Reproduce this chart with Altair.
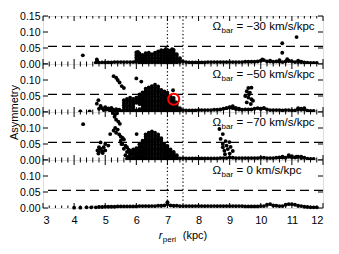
import altair as alt
import pandas as pd

# ---------------- data ----------------
omega_labels = ["\u221230", "\u221250", "\u221270", "0"]
x_ticks = [3, 4, 5, 6, 7, 8, 9, 10, 11, 12]
y_ticks_top = [0.0, 0.05, 0.10, 0.15]
y_ticks = [0.0, 0.05, 0.10]
threshold = [0.055]
r_lines = [7.0, 7.5]
highlight_x = [7.2]
highlight_y = [0.04]

band_x = [4.7, 4.8, 4.9, 5.0, 5.1, 5.2, 5.3, 5.4, 5.5, 5.6,
          5.7, 5.8, 5.9, 6.0, 6.1, 6.2, 6.3, 6.4, 6.5, 6.6,
          6.7, 6.8, 6.9, 7.0, 7.1, 7.2, 7.3, 7.4, 7.5, 7.6,
          7.7, 7.8, 7.9, 8.0, 8.1, 8.2, 8.3, 8.4, 8.5, 8.6,
          8.7, 8.8, 8.9, 9.0, 9.1, 9.2, 9.3, 9.4, 9.5, 9.6,
          9.7, 9.8, 9.9, 10.0, 10.1, 10.2, 10.3, 10.4, 10.5, 10.6,
          10.7, 10.8, 10.9, 11.0, 11.1, 11.2, 11.3, 11.4, 11.5, 11.6]

band_y1 = [.004, .004, .005, .005, .005, .005, .006, .006, .006, .006,
           .006, .006, .006, .006, .005, .005, .005, .005, .005, .005,
           .005, .005, .005, .005, .005, .005, .005, .006, .008, .006,
           .005, .005, .005, .005, .005, .005, .006, .006, .006, .006,
           .006, .006, .006, .006, .006, .006, .006, .006, .007, .007,
           .007, .007, .008, .010, .012, .008, .008, .007, .008, .007,
           .006, .008, .010, .008, .006, .006, .007, .005, .004, .003]
band_y2 = [None, None, None, None, None, None, None, None, None, .004,
           .004, .004, .004, .004, .004, .004, .004, .004, .004, .004,
           .004, .004, .004, .004, .004, .004, .004, .005, .006, .005,
           .005, .005, .005, .006, .006, .006, .006, .006, .007, .007,
           .008, .010, .012, .014, .012, .009, .008, .007, .008, .008,
           .008, .010, .012, .010, .012, .008, .006, .006, .006, .006,
           .005, .006, .006, .005, .005, .008, .007, .008, .004, .003]
band_y3 = [None, None, None, None, None, None, None, None, None, None,
           .004, .004, .004, .004, .004, .004, .004, .004, .004, .004,
           .004, .004, .004, .004, .004, .004, .004, .005, .006, .005,
           .005, .005, .005, .005, .005, .005, .005, .005, .005, .005,
           .006, .006, .006, .008, .007, .006, .006, .006, .006, .006,
           .006, .006, .006, .007, .007, .006, .006, .006, .007, .008,
           .008, .007, .010, .008, .008, .010, .006, .007, .004, .003]
band_y4 = [.002, .003, .003, .004, .004, .004, .004, .005, .005, .005,
           .005, .005, .005, .005, .006, .006, .006, .006, .006, .006,
           .007, .007, .008, .012, .008, .007, .007, .006, .006, .006,
           .006, .006, .006, .006, .006, .006, .006, .006, .006, .006,
           .006, .006, .006, .006, .006, .006, .006, .006, .005, .005,
           .005, .005, .005, .006, .006, .010, .012, .008, .007, .006,
           .006, .010, .012, .012, .010, .007, .006, .004, .003, .002]

pts1 = [(4.28, .027), (4.73, .014), (4.74, .009),
        (6.0, .012), (6.0, .020), (6.0, .028), (6.0, .036), (6.05, .038),
        (6.1, .010), (6.1, .018), (6.1, .026), (6.1, .033),
        (6.2, .012), (6.2, .020), (6.2, .028),
        (6.3, .010), (6.3, .018), (6.3, .026), (6.3, .034),
        (6.4, .012), (6.4, .020), (6.4, .028), (6.4, .035),
        (6.5, .010), (6.5, .018), (6.5, .026), (6.5, .031),
        (6.6, .012), (6.6, .020), (6.6, .028), (6.6, .035),
        (6.7, .010), (6.7, .018), (6.7, .026), (6.7, .034), (6.7, .039),
        (6.8, .012), (6.8, .020), (6.8, .028), (6.8, .036), (6.8, .043),
        (6.9, .010), (6.9, .018), (6.9, .026), (6.9, .034), (6.9, .042), (6.95, .047),
        (7.0, .012), (7.0, .020), (7.0, .028), (7.0, .036), (7.0, .044),
        (7.1, .010), (7.1, .018), (7.1, .026), (7.1, .034), (7.1, .042), (7.15, .046),
        (7.2, .012), (7.2, .020), (7.2, .028), (7.2, .036), (7.2, .044),
        (7.3, .010), (7.3, .018), (7.3, .026), (7.3, .031),
        (7.4, .012), (7.4, .018),
        (10.05, .014), (10.3, .010), (10.6, .012), (10.69, .035), (10.69, .065),
        (10.85, .015), (10.9, .010), (11.15, .084), (11.2, .010), (11.3, .006),
        (11.7, .003), (11.8, .003)]

pts2 = [(4.2, .002), (4.5, .002), (4.73, .026), (4.78, .037), (4.8, .010),
        (4.85, .019), (4.9, .012), (4.95, .006), (5.0, .015), (5.05, .008),
        (5.1, .011), (5.15, .004), (5.2, .013), (5.25, .007), (5.3, .003),
        (5.35, .009), (5.4, .004), (5.45, .007), (5.5, .003),
        (5.27, .112), (5.35, .107), (5.4, .100), (5.46, .092), (5.53, .081),
        (5.6, .075), (6.0, .105), (6.16, .095), (7.18, .068),
        (5.6, .005), (5.6, .013), (5.6, .021), (5.6, .029), (5.6, .037),
        (5.7, .009), (5.7, .017), (5.7, .025), (5.7, .033), (5.7, .041),
        (5.8, .005), (5.8, .013), (5.8, .021), (5.8, .029), (5.8, .037), (5.8, .045),
        (5.9, .009), (5.9, .017), (5.9, .025), (5.9, .033), (5.9, .041),
        (6.0, .005), (6.0, .029), (6.0, .037), (6.0, .045),
        (6.1, .009), (6.1, .025), (6.1, .033), (6.1, .041), (6.1, .049), (6.1, .055),
        (6.2, .005), (6.2, .013), (6.2, .021), (6.2, .029), (6.2, .037), (6.2, .045),
        (6.2, .053), (6.2, .061),
        (6.3, .009), (6.3, .017), (6.3, .025), (6.3, .033), (6.3, .041), (6.3, .049),
        (6.3, .057), (6.3, .065), (6.3, .073),
        (6.4, .005), (6.4, .013), (6.4, .021), (6.4, .029), (6.4, .037), (6.4, .045),
        (6.4, .053), (6.4, .061), (6.4, .069), (6.4, .077),
        (6.5, .009), (6.5, .017), (6.5, .025), (6.5, .033), (6.5, .041), (6.5, .049),
        (6.5, .057), (6.5, .065), (6.5, .073), (6.5, .081),
        (6.6, .005), (6.6, .013), (6.6, .021), (6.6, .029), (6.6, .037), (6.6, .045),
        (6.6, .053), (6.6, .061), (6.6, .069), (6.6, .077), (6.6, .085),
        (6.7, .009), (6.7, .017), (6.7, .025), (6.7, .033), (6.7, .041), (6.7, .049),
        (6.7, .057), (6.7, .065), (6.7, .073), (6.7, .080),
        (6.8, .005), (6.8, .013), (6.8, .021), (6.8, .029), (6.8, .037), (6.8, .045),
        (6.8, .053), (6.8, .061), (6.8, .069),
        (6.9, .009), (6.9, .017), (6.9, .025), (6.9, .033), (6.9, .041), (6.9, .049),
        (6.9, .057), (6.9, .064),
        (7.0, .005), (7.0, .013), (7.0, .021), (7.0, .029), (7.0, .037), (7.0, .045),
        (7.0, .053), (7.0, .060),
        (7.1, .009), (7.1, .017), (7.1, .025), (7.1, .033), (7.1, .041), (7.1, .049),
        (7.2, .005), (7.2, .013), (7.2, .021), (7.2, .029), (7.2, .037), (7.2, .044),
        (7.3, .009), (7.3, .017), (7.3, .025), (7.3, .030),
        (7.4, .006), (7.4, .012),
        (9.55, .030), (9.6, .045), (9.5, .050), (9.62, .055), (9.65, .060),
        (9.55, .065), (9.6, .075), (9.7, .076), (9.7, .040), (9.75, .035), (9.68, .025),
        (8.9, .012), (9.0, .015), (9.1, .018), (9.2, .013), (9.3, .010),
        (10.0, .010), (10.1, .012), (11.2, .012), (11.3, .010), (11.4, .012), (11.7, .003)]

pts3 = [(4.29, .112),
        (4.75, .030), (4.8, .025), (4.85, .035), (4.9, .028), (4.95, .040), (5.0, .030),
        (4.8, .040), (4.85, .055), (5.0, .050), (5.1, .045), (4.78, .020), (4.92, .022),
        (5.25, .147), (5.32, .143), (5.38, .146), (5.3, .135), (5.35, .126), (5.42, .120),
        (5.47, .113), (5.16, .081), (5.27, .092), (5.32, .100), (5.35, .085), (5.4, .095),
        (5.45, .080), (5.5, .073), (5.56, .069), (5.5, .060), (5.6, .064), (5.55, .050),
        (5.65, .045), (5.6, .035), (5.7, .040), (5.7, .025), (5.75, .032), (5.8, .020),
        (5.65, .015), (5.75, .010), (5.52, .050), (6.01, .081),
        (5.8, .005), (5.8, .013), (5.8, .021), (5.8, .029),
        (5.9, .009), (5.9, .017), (5.9, .025), (5.9, .033),
        (6.0, .005), (6.0, .013), (6.0, .021), (6.0, .029), (6.0, .037),
        (6.1, .009), (6.1, .017), (6.1, .025), (6.1, .033), (6.1, .041), (6.1, .049),
        (6.2, .005), (6.2, .013), (6.2, .021), (6.2, .029), (6.2, .037), (6.2, .045),
        (6.2, .053), (6.2, .060),
        (6.3, .009), (6.3, .017), (6.3, .025), (6.3, .033), (6.3, .041), (6.3, .049),
        (6.3, .057), (6.3, .065), (6.3, .073), (6.3, .080),
        (6.4, .005), (6.4, .013), (6.4, .021), (6.4, .029), (6.4, .037), (6.4, .045),
        (6.4, .053), (6.4, .061), (6.4, .069), (6.4, .077), (6.4, .085),
        (6.5, .009), (6.5, .017), (6.5, .025), (6.5, .033), (6.5, .041), (6.5, .049),
        (6.5, .057), (6.5, .065), (6.5, .073), (6.5, .081), (6.5, .089),
        (6.6, .005), (6.6, .013), (6.6, .021), (6.6, .029), (6.6, .037), (6.6, .045),
        (6.6, .053), (6.6, .061), (6.6, .069), (6.6, .077), (6.6, .085),
        (6.7, .009), (6.7, .017), (6.7, .025), (6.7, .033), (6.7, .041), (6.7, .049),
        (6.7, .057), (6.7, .065), (6.7, .073), (6.7, .080),
        (6.8, .005), (6.8, .013), (6.8, .021), (6.8, .029), (6.8, .037), (6.8, .045),
        (6.8, .053), (6.8, .061), (6.8, .068),
        (6.9, .009), (6.9, .017), (6.9, .025), (6.9, .033), (6.9, .041), (6.9, .049),
        (7.0, .005), (7.0, .013), (7.0, .021), (7.0, .029), (7.0, .037), (7.0, .044),
        (7.1, .009), (7.1, .017), (7.1, .025), (7.1, .033),
        (7.2, .005), (7.2, .013), (7.2, .021), (7.2, .025),
        (7.3, .009), (7.3, .015),
        (8.67, .097), (8.78, .081), (8.71, .066), (8.87, .059), (8.78, .050), (8.99, .056),
        (9.03, .041), (8.94, .034), (9.1, .028), (8.83, .029), (8.78, .040), (8.9, .045),
        (9.0, .020), (8.85, .018),
        (10.7, .010), (10.9, .015), (11.0, .012), (11.15, .010), (11.3, .010), (11.7, .003)]

pts4 = [(4.0, .001), (4.2, .001), (4.4, .002), (4.55, .002), (7.0, .018),
        (11.7, .002), (11.8, .002)]

# ---------------- chart ----------------
W, H = 280, 48
FONT = "Liberation Sans"
MAJ, MINR = 5, 2.5
minor_x = [round(a + f, 1) for a in x_ticks[:-1] for f in (0.2, 0.4, 0.6, 0.8)]


def panel(i, band_y, pts, label):
    top = i == 0
    bottom = i == 3
    xs = [x for x, y in zip(band_x, band_y) if y is not None] + [p[0] for p in pts]
    ys = [y for y in band_y if y is not None] + [p[1] for p in pts]
    df = pd.DataFrame({"x": xs, "y": ys})

    if bottom:
        xaxis = alt.Axis(values=x_ticks, format="d", ticks=False, domain=False, grid=False,
                         labelPadding=6, labelFontSize=11, labelFont=FONT,
                         labelColor="black", title=None)
    else:
        xaxis = None
    yaxis_kw = dict(values=y_ticks_top if top else y_ticks, format=".2f", ticks=False,
                    domain=False, grid=False, labelPadding=3, labelFontSize=10.5,
                    labelFont=FONT, labelColor="black")
    if i == 1:
        yaxis = alt.Axis(title="Asymmetry", titleFontSize=11, titleFont=FONT,
                         titleFontWeight="normal", titleColor="black", titleY=H,
                         titlePadding=0, **yaxis_kw)
    else:
        yaxis = alt.Axis(title=None, **yaxis_kw)

    X = alt.X("x:Q", scale=alt.Scale(domain=[3, 12], nice=False, zero=False), axis=xaxis)
    Y = alt.Y("y:Q", scale=alt.Scale(domain=[0, 0.15], nice=False, zero=False), axis=yaxis)

    layers = []
    layers.append(alt.Chart(df).mark_circle(size=15, color="black", opacity=1).encode(x=X, y=Y))
    layers.append(alt.Chart(pd.DataFrame({"y": threshold})).mark_rule(
        color="black", strokeWidth=1.4, strokeDash=[9, 5]).encode(y=Y))
    layers.append(alt.Chart(pd.DataFrame({"x": r_lines})).mark_rule(
        color="black", strokeWidth=1.2, strokeDash=[1.2, 2.4]).encode(x=X))
    # inward ticks
    for vals, L in ((x_ticks, MAJ), (minor_x, MINR)):
        d = pd.DataFrame({"x": vals})
        layers.append(alt.Chart(d).mark_rule(color="black", strokeWidth=1).encode(
            x=X, y=alt.value(H), y2=alt.value(H - L)))
        layers.append(alt.Chart(d).mark_rule(color="black", strokeWidth=1).encode(
            x=X, y=alt.value(0), y2=alt.value(L)))
    dy = pd.DataFrame({"y": y_ticks_top})
    layers.append(alt.Chart(dy).mark_rule(color="black", strokeWidth=1).encode(
        y=Y, x=alt.value(0), x2=alt.value(MAJ)))
    layers.append(alt.Chart(dy).mark_rule(color="black", strokeWidth=1).encode(
        y=Y, x=alt.value(W), x2=alt.value(W - MAJ)))
    # panel label: Omega_bar = ... km/s/kpc
    lab = pd.DataFrame({"x": [8.45], "y": [0.107]})
    layers.append(alt.Chart(lab).mark_text(align="left", baseline="alphabetic", fontSize=11.5,
                                           font=FONT, color="black", text="\u03a9").encode(x=X, y=Y))
    layers.append(alt.Chart(lab).mark_text(align="left", baseline="alphabetic", fontSize=8,
                                           font=FONT, color="black", text="bar", dx=9, dy=3).encode(x=X, y=Y))
    layers.append(alt.Chart(lab).mark_text(align="left", baseline="alphabetic", fontSize=11.5,
                                           font=FONT, color="black",
                                           text="= " + label + " km/s/kpc", dx=24).encode(x=X, y=Y))
    if i == 1:
        layers.append(alt.Chart(pd.DataFrame({"x": highlight_x, "y": highlight_y})).mark_point(
            shape="circle", size=121, filled=False, color="red", strokeWidth=2, opacity=1).encode(x=X, y=Y))
    if bottom:
        tl = pd.DataFrame({"x": [6.72]})
        layers.append(alt.Chart(tl).mark_text(align="left", baseline="alphabetic", fontSize=11,
                                              font=FONT, fontStyle="italic", color="black",
                                              text="r").encode(x=X, y=alt.value(H + 31)))
        layers.append(alt.Chart(tl).mark_text(align="left", baseline="alphabetic", fontSize=8,
                                              font=FONT, color="black", text="peri",
                                              dx=4).encode(x=X, y=alt.value(H + 34)))
        layers.append(alt.Chart(tl).mark_text(align="left", baseline="alphabetic", fontSize=11,
                                              font=FONT, color="black", text="(kpc)",
                                              dx=24).encode(x=X, y=alt.value(H + 31)))
    return alt.layer(*layers).properties(width=W, height=H)


bands = [band_y1, band_y2, band_y3, band_y4]
pts_all = [pts1, pts2, pts3, pts4]
panels = [panel(i, bands[i], pts_all[i], omega_labels[i]) for i in range(4)]

chart = alt.vconcat(*panels, spacing=0, bounds="flush").properties(
    padding={"left": 0, "top": 2, "right": 5, "bottom": 2}
).configure_view(stroke="black", strokeWidth=1).configure(background="white")

chart.save("out.html", embed_options={"renderer": "svg", "actions": False})
